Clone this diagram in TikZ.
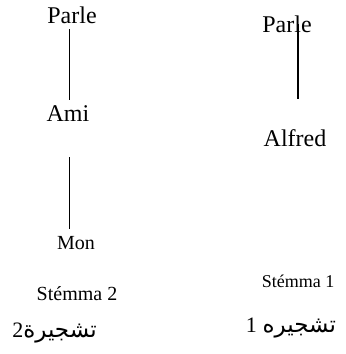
\documentclass[tikz,border=0pt]{standalone}
\usepackage{fontspec}
\setmainfont{Liberation Serif}
\newfontfamily\arabicfont[Script=Arabic]{DejaVu Sans}
\TeXXeTstate=1
\usetikzlibrary{calc}
\tikzset{
  word/.style={inner sep=0pt, anchor=base, font=\fontsize{12}{14}\selectfont},
  small/.style={inner sep=0pt, anchor=base, font=\fontsize{10}{12}\selectfont},
  caption/.style={inner sep=0pt, anchor=base, font=\fontsize{10}{12}\selectfont},
  arab/.style={inner sep=0pt, anchor=base, font=\fontsize{11.5}{13}\selectfont},
  branch/.style={line width=0.6pt}
}
\begin{document}
\begin{tikzpicture}[x=0.5pt, y=-0.5pt]
  \useasboundingbox (0,0) rectangle (345,354);
  % Stemma 2 (left)
  \node[word] (parleL) at (72,23) {Parle};
  \node[word] (amiL) at (68,121) {Ami};
  \node[small] (monL) at (76,249) {Mon};
  \node[caption] (capL) at (77,300) {Stémma 2};
  \node[arab] (arL) at (54.5,337) {\beginR{\arabicfont تشجيرة}\fontsize{11}{13}\selectfont2\endR};
  \draw[branch] ($(parleL.base)+(-2.5,6)$) -- ($(amiL.base)+(1.5,-21)$);
  \draw[branch] ($(amiL.base)+(1.5,36)$) -- ($(monL.base)+(-6.5,-20)$);
  % Stemma 1 (right)
  \node[word] (parleR) at (287,32) {Parle};
  \node[word] (alfredR) at (295,146) {Alfred};
  \node[caption, font=\fontsize{9}{11}\selectfont] (capR) at (298,287) {Stémma 1};
  \node[arab] (arR) at (291,332) {\beginR{\arabicfont تشجيره} \fontsize{11}{13}\selectfont1\endR};
  \draw[branch] ($(parleR.base)+(11,-8)$) -- ($(alfredR.base)+(3,-47)$);
\end{tikzpicture}
\end{document}
